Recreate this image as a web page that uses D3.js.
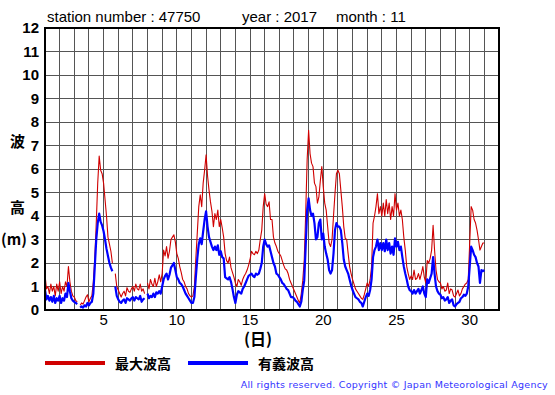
<!DOCTYPE html>
<html>
<head>
<meta charset="utf-8">
<script src="https://cdn.jsdelivr.net/npm/d3@7"></script>
<style>
  body { margin: 0; background: #fff; }
  svg { display: block; }
</style>
</head>
<body>
<script>
// wave height every 0.1 day from day 1.0 to 31.0 (null = missing)
let startDay = 1;
let stepDay = 0.1;

let maxWave = [
  1.5, 0.9, 1.0, 0.7, 1.1, 0.8, 1.0, 0.6, 1.1, 0.8,
  1.2, 0.7, 1.0, 0.8, 1.2, 1.0, 1.85, 1.2, 0.8, 0.6,
  0.55, 0.4, 0.35, null, 0.2, 0.3, 0.25, 0.4, 0.55, 0.65,
  0.35, 0.5, 0.6, 1.2, 2.2, 3.7, 5.4, 6.55, 5.95, 5.8,
  5.4, 4.7, 4.0, 3.1, 2.8, 2.5, 2.0, null, 1.55, 1.0,
  0.85, 0.7, 0.55, 0.7, 0.8, 0.6, 0.95, 0.8, 0.75, 0.9,
  1.0, 0.8, 1.1, 0.9, 0.85, 1.1, 0.8, 0.9, 0.7, null,
  1.15, 0.9, 1.3, 1.1, 1.0, 1.35, 1.0, 1.2, 1.5, 1.2,
  1.55, 2.55, 2.3, 2.7, 2.2, 2.5, 3.0, 3.1, 3.2, 2.9,
  2.4, 2.2, 1.85, 1.6, 1.3, 1.2, 1.0, 0.9, 0.7, 0.6,
  0.55, 0.6, 1.0, 2.2, 3.3, 4.4, 4.9, 4.4, 5.4, 5.95,
  6.6, 5.7, 5.1, 4.6, 4.2, 3.55, 4.1, 3.85, 4.25, 3.55,
  3.85, 3.5, 3.1, 2.4, 2.1, 2.0, 2.25, 1.8, 1.6, 1.4,
  1.15, 1.0, 1.3, 1.2, 1.05, 1.3, 1.45, 1.55, 1.7, 1.9,
  2.15, 2.5, 2.4, 2.35, 2.5, 2.4, 2.55, 3.0, 3.4, 4.4,
  4.95, 4.5, 4.4, 4.6, 3.85, 3.85, 3.1, 2.85, 2.7, 2.5,
  2.4, 2.3, 2.1, 1.9, 1.75, 1.7, 1.55, 1.3, 1.15, 1.0,
  0.85, 0.7, 0.55, 0.4, 0.3, 0.7, 1.25, 2.1, 4.1, 6.4,
  7.65, 6.65, 6.25, 6.1, 5.4, 5.25, 4.55, 4.8, 5.5, 6.1,
  5.25, 4.55, 4.25, 3.55, 2.85, 2.7, 3.0, 4.0, 4.95, 5.8,
  5.95, 5.8, 5.1, 4.4, 3.55, 3.05, 3.0, 2.4, 1.85, 1.55,
  1.3, 1.1, 0.9, 0.8, 0.7, 0.6, 0.5, 0.45, 0.65, 0.9,
  1.15, 1.0, 1.3, 1.85, 3.7, 4.0, 4.4, 4.95, 4.1, 4.4,
  4.0, 4.55, 4.0, 4.7, 4.1, 4.55, 3.85, 4.4, 4.0, 4.95,
  4.25, 4.55, 4.0, 4.25, 3.85, 3.1, 2.55, 1.85, 1.55, 1.3,
  1.45, 1.3, 1.7, 1.3, 1.35, 1.55, 1.3, 1.55, 1.85, 1.4,
  1.15, 2.1, 2.0, 2.2, 2.55, 3.6, 2.55, 1.7, 1.3, 1.2,
  1.15, 0.9, 1.0, 0.8, 0.85, 1.15, 0.7, 0.9, 0.85, 0.6,
  0.55, 0.7, 0.85, 0.6, 0.7, 0.9, 1.0, 1.1, 1.15, 1.3,
  2.85, 4.4, 4.25, 3.85, 3.7, 3.4, 3.0, 2.55, 2.7, 2.85,
  2.85
];

let sigWave = [
  0.85, 0.45, 0.6, 0.4, 0.55, 0.35, 0.6, 0.3, 0.5, 0.4,
  0.6, 0.3, 0.5, 0.4, 0.7, 0.55, 1.15, 0.8, 0.5, 0.4,
  0.35, 0.3, 0.25, null, 0.1, 0.15, 0.1, 0.2, 0.15, 0.3,
  0.2, 0.3, 0.35, 0.7, 1.85, 3.0, 3.7, 4.1, 3.75, 3.6,
  3.35, 3.0, 2.6, 2.3, 2.0, 1.8, 1.65, null, 1.0, 0.6,
  0.45, 0.35, 0.3, 0.4, 0.45, 0.3, 0.5, 0.45, 0.4, 0.5,
  0.55, 0.4, 0.55, 0.5, 0.45, 0.6, 0.35, 0.45, 0.5, null,
  0.7, 0.5, 0.6, 0.55, 0.7, 0.55, 0.75, 0.7, 0.8, 0.7,
  1.0, 1.3, 1.45, 1.55, 1.3, 1.5, 1.8, 1.9, 2.0, 1.7,
  1.4, 1.3, 1.15, 1.1, 1.0, 0.85, 0.7, 0.6, 0.5, 0.4,
  0.3, 0.3, 0.55, 1.4, 2.2, 2.8, 3.05, 2.8, 3.35, 3.85,
  4.2, 3.55, 3.1, 2.9, 2.7, 2.55, 2.7, 2.55, 2.75, 2.35,
  2.5, 2.25, 2.2, 1.4, 1.35, 1.3, 1.4, 1.2, 0.9, 0.55,
  0.3, 0.65, 0.8, 0.75, 0.7, 0.9, 1.0, 1.15, 1.3, 1.45,
  1.5, 1.55, 1.45, 1.4, 1.55, 1.5, 1.55, 1.75, 2.0, 2.7,
  3.0, 2.8, 2.7, 2.75, 2.5, 2.25, 2.0, 1.85, 1.55, 1.5,
  1.4, 1.3, 1.15, 1.1, 1.0, 0.9, 0.85, 0.7, 0.55, 0.55,
  0.5, 0.4, 0.35, 0.25, 0.15, 0.35, 0.85, 1.25, 2.7, 4.25,
  4.75, 4.25, 4.0, 4.1, 3.7, 3.0, 3.1, 3.7, 3.85, 3.0,
  3.25, 2.7, 2.4, 2.15, 1.7, 1.55, 1.7, 2.4, 3.4, 3.7,
  3.55, 3.55, 3.4, 2.85, 2.15, 1.85, 1.7, 1.55, 1.3, 1.05,
  0.85, 0.7, 0.55, 0.5, 0.45, 0.35, 0.3, 0.15, 0.35, 0.55,
  0.7, 0.6, 0.85, 1.3, 2.25, 2.55, 2.7, 3.0, 2.55, 2.85,
  2.55, 2.85, 2.5, 3.0, 2.55, 2.85, 2.4, 2.7, 2.35, 3.05,
  2.7, 2.9, 2.55, 2.7, 2.25, 1.85, 1.55, 1.3, 1.0, 0.85,
  0.8, 0.7, 0.85, 0.7, 0.8, 0.9, 0.7, 0.85, 1.0, 0.7,
  0.55, 1.3, 1.15, 1.35, 1.55, 2.25, 1.55, 1.0, 0.8, 0.7,
  0.65, 0.5, 0.55, 0.4, 0.45, 0.55, 0.3, 0.4, 0.45, 0.2,
  0.15, 0.25, 0.3, 0.35, 0.5, 0.55, 0.65, 0.6, 0.7, 1.0,
  1.85, 2.7, 2.55, 2.35, 2.25, 2.0, 1.85, 1.15, 1.7, 1.65,
  1.7
];

let xTicks = [5, 10, 15, 20, 25, 30];
let yTicks = [0, 1, 2, 3, 4, 5, 6, 7, 8, 9, 10, 11, 12];
let seriesNames = ["最大波高", "有義波高"];
let seriesColors = ["#d00000", "#0000ff"];

function graficar() {
  let w = 555;
  let h = 395;
  let left = 45, right = 499, top = 28, bottom = 310;

  let svg = d3.select("body").append("svg").attr("width", w).attr("height", h);

  let x = d3.scaleLinear().domain([1, 32]).range([left, right]);
  let y = d3.scaleLinear().domain([0, 12]).range([bottom, top]);

  // cuadrícula
  svg.append("g")
    .selectAll("line")
    .data(d3.range(2, 32))
    .enter()
    .append("line")
    .attr("x1", d => x(d)).attr("x2", d => x(d))
    .attr("y1", top).attr("y2", bottom)
    .attr("stroke", "#555").attr("stroke-width", 1)
    .attr("shape-rendering", "crispEdges");

  svg.append("g")
    .selectAll("line")
    .data(yTicks.slice(1, -1))
    .enter()
    .append("line")
    .attr("x1", left).attr("x2", right)
    .attr("y1", d => y(d)).attr("y2", d => y(d))
    .attr("stroke", "#555").attr("stroke-width", 1)
    .attr("shape-rendering", "crispEdges");

  // series
  let line = d3.line()
    .defined(d => d != null)
    .x((d, i) => x(startDay + i * stepDay))
    .y(d => y(d));

  svg.append("path")
    .datum(maxWave)
    .attr("d", line)
    .attr("fill", "none")
    .attr("stroke", seriesColors[0])
    .attr("stroke-width", 1.1)
    .attr("stroke-linejoin", "round");

  svg.append("path")
    .datum(sigWave)
    .attr("d", line)
    .attr("fill", "none")
    .attr("stroke", seriesColors[1])
    .attr("stroke-width", 2.2)
    .attr("stroke-linejoin", "round");

  // marco
  svg.append("rect")
    .attr("x", left).attr("y", top)
    .attr("width", right - left).attr("height", bottom - top)
    .attr("fill", "none").attr("stroke", "#000").attr("stroke-width", 2);

  // etiquetas y
  svg.selectAll(".ylab")
    .data(yTicks)
    .enter()
    .append("text")
    .attr("class", "ylab")
    .text(d => d)
    .attr("x", 39)
    .attr("y", d => y(d) + 5)
    .attr("text-anchor", "end")
    .attr("font-family", "Liberation Sans, Arial, sans-serif")
    .attr("font-weight", "bold")
    .attr("font-size", 15);

  // etiquetas x
  svg.selectAll(".xlab")
    .data(xTicks)
    .enter()
    .append("text")
    .attr("class", "xlab")
    .text(d => d)
    .attr("x", d => x(d))
    .attr("y", 325)
    .attr("text-anchor", "middle")
    .attr("font-family", "Liberation Sans, Arial, sans-serif")
    .attr("font-size", 15);

  svg.append("text")
    .text("(日)")
    .attr("x", 258).attr("y", 345)
    .attr("text-anchor", "middle")
    .attr("font-family", "Noto Sans CJK JP")
    .attr("font-weight", "bold")
    .attr("font-size", 16);

  // titulo eje y
  let cjk = svg.append("g")
    .attr("font-family", "Noto Sans CJK JP")
    .attr("font-weight", "bold")
    .attr("font-size", 15);
  cjk.append("text").text("波").attr("x", 10).attr("y", 147);
  cjk.append("text").text("高").attr("x", 10).attr("y", 213);
  cjk.append("text").text("(m)").attr("x", 1).attr("y", 245);

  // titulo
  let tt = svg.append("g")
    .attr("font-family", "Liberation Sans, Arial, sans-serif")
    .attr("font-size", 15);
  tt.append("text").text("station number : 47750").attr("x", 47).attr("y", 22);
  tt.append("text").text("year : 2017").attr("x", 242).attr("y", 22);
  tt.append("text").text("month : 11").attr("x", 336).attr("y", 22);

  // leyenda
  let lg = svg.append("g");
  lg.selectAll("line")
    .data(seriesNames)
    .enter()
    .append("line")
    .attr("x1", (d, i) => 45 + i * 143)
    .attr("x2", (d, i) => 105 + i * 143)
    .attr("y1", 363).attr("y2", 363)
    .attr("stroke", (d, i) => seriesColors[i])
    .attr("stroke-width", 4);
  lg.selectAll("text")
    .data(seriesNames)
    .enter()
    .append("text")
    .text(d => d)
    .attr("x", (d, i) => 115 + i * 143)
    .attr("y", 369)
    .attr("font-family", "Noto Sans CJK JP")
    .attr("font-weight", "bold")
    .attr("font-size", 14);

  svg.append("text")
    .text("All rights reserved. Copyright © Japan Meteorological Agency")
    .attr("x", 548).attr("y", 388)
    .attr("text-anchor", "end")
    .attr("fill", "#3333ff")
    .attr("font-family", "DejaVu Sans, sans-serif")
    .attr("font-size", 9.5)
    .attr("letter-spacing", 0.25);
}

graficar();
</script>
</body>
</html>
